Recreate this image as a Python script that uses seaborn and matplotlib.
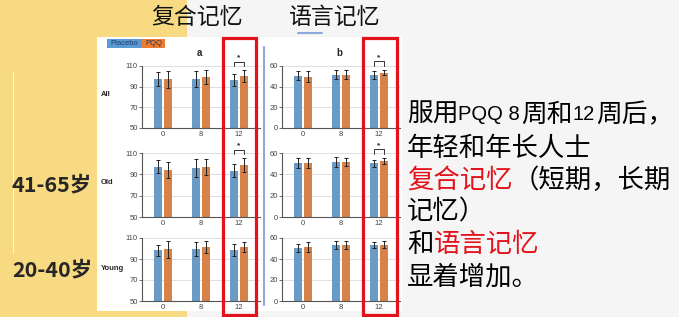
import matplotlib
matplotlib.use("Agg")
import matplotlib.pyplot as plt
import pandas as pd
import seaborn as sns
from matplotlib import font_manager
from matplotlib.patches import Rectangle
from matplotlib.lines import Line2D

W, H = 679, 317

weeks = ["0", "8", "12"]
groups = ["Placebo", "PQQ"]
rows = ["All", "Old", "Young"]

# 复合记忆 (composite memory): rows All / Old / Young, cols week 0 / 8 / 12
comp_placebo = [[97.3, 97.3, 96.3], [97.3, 95.7, 93.5], [98.1, 99.4, 98.7]]
comp_pqq = [[97.0, 99.3, 100.3], [94.1, 96.7, 98.9], [99.4, 101.3, 101.3]]
comp_placebo_err = [[6.7, 7.5, 6.0], [6.0, 8.6, 6.0], [5.4, 6.4, 5.8]]
comp_pqq_err = [[8.0, 7.0, 6.0], [7.6, 7.6, 6.3], [8.0, 5.5, 4.8]]

# 语言记忆 (verbal memory)
verb_placebo = [[50.7, 51.7, 51.0], [50.8, 51.7, 50.2], [50.8, 53.2, 53.2]]
verb_pqq = [[49.7, 51.7, 53.7], [50.8, 51.7, 52.3], [51.4, 53.2, 53.8]]
verb_placebo_err = [[4.3, 4.7, 4.0], [4.6, 4.6, 3.7], [3.7, 3.7, 3.0]]
verb_pqq_err = [[5.0, 4.7, 2.7], [4.6, 3.7, 3.0], [4.9, 3.7, 3.0]]

# significant PQQ vs placebo at week 12
sig_rows = [True, True, False]

comp_ticks = [50, 70, 90, 110]
verb_ticks = [0, 20, 40, 60]

BLUE = "#5B9BD5"
ORANGE = "#ED7D31"
RED = "#E3121B"
YELLOW = "#F8DA82"
CJK = ["Noto Sans CJK SC", "DejaVu Sans"]

sns.set_style("white")
plt.rcParams["font.family"] = ["Liberation Sans", "Noto Sans CJK SC", "DejaVu Sans"]

installed = {f.name for f in font_manager.fontManager.ttflist}
if "Liberation Sans Narrow" in installed:
    LATIN, LATIN_FS = ["Liberation Sans Narrow"], 17.5
else:
    LATIN, LATIN_FS = ["Liberation Sans"], 14.5

fig = plt.figure(figsize=(W / 100, H / 100), dpi=100, facecolor="#F5F5F5")
renderer = fig.canvas.get_renderer()


def ftxt(x, y, s, **kw):
    return fig.text(x / W, 1 - y / H, s, **kw)


def frect(x0, y0, x1, y1, **kw):
    r = Rectangle((x0 / W, 1 - y1 / H), (x1 - x0) / W, (y1 - y0) / H,
                  transform=fig.transFigure, **kw)
    fig.add_artist(r)
    return r


def fline(xs, ys, **kw):
    fig.add_artist(Line2D([x / W for x in xs], [1 - y / H for y in ys],
                          transform=fig.transFigure, **kw))


def px_axes(x0, y0, x1, y1):
    return fig.add_axes([x0 / W, 1 - y1 / H, (x1 - x0) / W, (y1 - y0) / H])


# background: yellow band on the left, white chart picture
frect(0, 0, 187, H, facecolor=YELLOW, edgecolor="none", zorder=-5)
fline([13, 13], [72, 253], color="#FFF6DA", lw=0.8, zorder=-4)
frect(97, 37, 402, 311, facecolor="white", edgecolor="none", zorder=-3)


def draw_panel(ax, placebo, pqq, p_err, q_err, ticks, sig):
    df = pd.DataFrame({
        "week": weeks * 2,
        "group": ["Placebo"] * len(weeks) + ["PQQ"] * len(weeks),
        "value": placebo + pqq,
    })
    sns.barplot(data=df, x="week", y="value", hue="group", order=weeks,
                hue_order=groups, palette=[BLUE, ORANGE], width=0.52, gap=0.15,
                errorbar=None, legend=False, linewidth=0, ax=ax, zorder=2)
    tops = []
    for p in list(ax.patches):
        xc = p.get_x() + p.get_width() / 2
        i = int(round(xc))
        g = 0 if xc < i else 1
        e = (p_err, q_err)[g][i]
        ax.errorbar(xc, p.get_height(), yerr=e, fmt="none", ecolor="#222222",
                    elinewidth=0.7, capsize=1.3, capthick=0.7, zorder=3)
        if i == len(weeks) - 1:
            tops.append((xc, p.get_height() + e))
    ax.set_xlim(-0.55, 2.55)
    ax.set_ylim(ticks[0], ticks[-1])
    ax.set_yticks(ticks)
    ax.set_xlabel("")
    ax.set_ylabel("")
    ax.set_facecolor("none")
    ax.yaxis.grid(True, color="#D9D9D9", lw=0.6)
    ax.set_axisbelow(True)
    for s in ["top", "right"]:
        ax.spines[s].set_visible(False)
    for s in ["left", "bottom"]:
        ax.spines[s].set_color("#555555")
        ax.spines[s].set_linewidth(0.8)
    ax.tick_params(axis="y", length=2, width=0.6, color="#555555", pad=1,
                   labelsize=5.5, labelcolor="#444444", left=True)
    ax.tick_params(axis="x", length=0, pad=2, labelsize=5.5, labelcolor="#444444")
    if sig:
        xs = sorted(t[0] for t in tops)
        y = max(t[1] for t in tops) + 8
        ax.plot([xs[0], xs[0], xs[1], xs[1]], [y - 4, y, y, y - 4],
                color="#333333", lw=0.7, clip_on=False, zorder=4)
        ax.text(sum(xs) / 2, y, "*", ha="center", va="bottom", fontsize=6,
                fontweight="bold", clip_on=False)


row_boxes = [(66, 128), (153, 217), (238, 301)]
for r, (y0, y1) in enumerate(row_boxes):
    ax_a = px_axes(142, y0, 260, y1)
    draw_panel(ax_a, comp_placebo[r], comp_pqq[r], comp_placebo_err[r],
               comp_pqq_err[r], comp_ticks, sig_rows[r])
    ax_b = px_axes(282, y0, 400, y1)
    draw_panel(ax_b, verb_placebo[r], verb_pqq[r], verb_placebo_err[r],
               verb_pqq_err[r], verb_ticks, sig_rows[r])

# row labels inside the picture
for lab, y in zip(rows, [95, 182, 269]):
    ftxt(101, y, lab, fontsize=5.5, fontweight="bold", ha="left", va="center")

# legend boxes
frect(107, 39, 142, 48, facecolor=BLUE, edgecolor="none")
frect(142, 39, 165, 48, facecolor=ORANGE, edgecolor="none")
ftxt(124.5, 43.5, "Placebo", fontsize=5.5, color="#1F3864", ha="center", va="center")
ftxt(153.5, 43.5, "PQQ", fontsize=5.5, color="#1F3864", ha="center", va="center")

ftxt(199, 53, "a", fontsize=7, fontweight="bold", ha="center", va="center")
ftxt(339, 53, "b", fontsize=7, fontweight="bold", ha="center", va="center")

# titles
ftxt(197, 18, "复合记忆", family=CJK, fontsize=16.5, ha="center", va="center",
     fontweight="medium", color="#111111")
ftxt(335, 17, "语言记忆", family=CJK, fontsize=16.5, ha="center", va="center",
     fontweight="medium", color="#111111")
fline([298, 322], [33, 33], color="#8EA9DB", lw=1.5)
fline([264, 264], [47, 305], color="#8EA9DB", lw=1.5)

# red highlight frames around week 12
frect(223, 38, 256, 315, facecolor="none", edgecolor=RED, lw=2.3, zorder=10)
frect(363, 38, 397, 315, facecolor="none", edgecolor=RED, lw=2.3, zorder=10)

# age labels
ftxt(12, 185, "41-65岁", family=CJK, fontsize=15.5, fontweight="bold", ha="left", va="center")
ftxt(12, 270, "20-40岁", family=CJK, fontsize=15.5, fontweight="bold", ha="left", va="center")

# right text: (text, colour, latin?) segments per line
fs = 19
text_lines = [
    [("服用", "black", False), ("PQQ 8", "black", True), ("周和", "black", False),
     ("12", "black", True), ("周后，", "black", False)],
    [("年轻和年长人士", "black", False)],
    [("复合记忆", RED, False), ("（短期，长期", "black", False)],
    [("记忆）", "black", False)],
    [("和", "black", False), ("语言记忆", RED, False)],
    [("显着增加。", "black", False)],
]
line_y = [115, 148, 180, 212, 244, 277]
for li, (parts, y) in enumerate(zip(text_lines, line_y)):
    size = 18.5 if li == 0 else fs
    em = size * 100 / 72
    x = 407
    for s, c, latin in parts:
        if latin:
            t = ftxt(x, y, s, family=LATIN, fontsize=LATIN_FS, color=c,
                     ha="left", va="center")
            x += t.get_window_extent(renderer).width + 1
        else:
            ftxt(x, y, s, family=CJK, fontsize=size, color=c, ha="left", va="center")
            x += len(s) * em

fig.savefig("out.png", dpi=100, facecolor=fig.get_facecolor())
